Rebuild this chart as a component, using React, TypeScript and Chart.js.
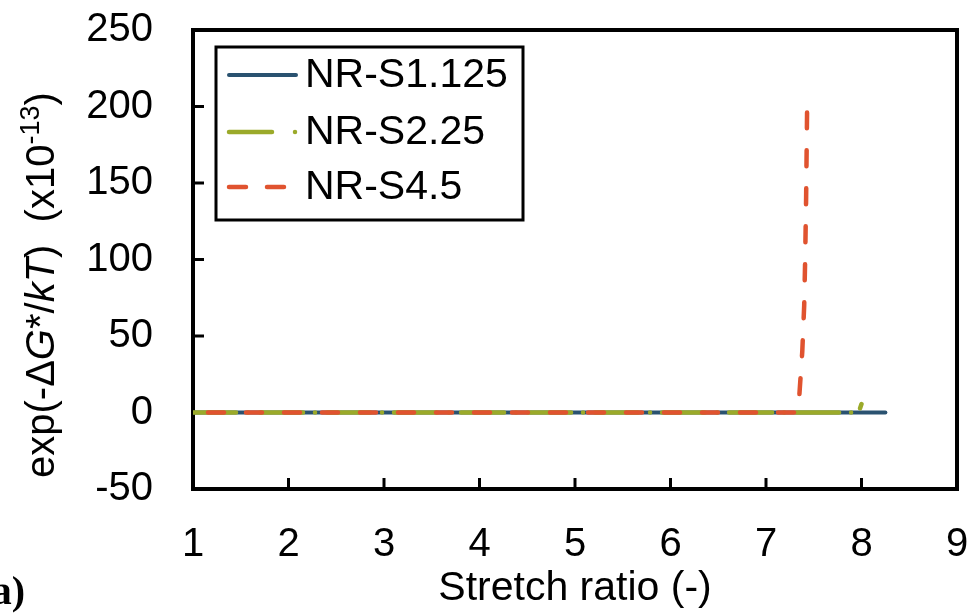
import { useEffect, useRef } from 'react';
import { Chart, registerables } from 'chart.js';

Chart.register(...registerables);

const FONT = '"Liberation Sans", Arial, sans-serif';

const seriesNames = ['NR-S1.125', 'NR-S2.25', 'NR-S4.5'];
const seriesColors = ['#2A5270', '#9BAA2A', '#E0532F'];

// NR-S1.125
const s1X = [1, 8.25];
const s1Y = [0, 0];
// NR-S2.25
const s2X = [1, 7.97, 8.0];
const s2Y = [0, 0, 5.5];
// NR-S4.5
const s3X = [1, 7.33, 7.35, 7.38, 7.4, 7.41, 7.42, 7.43];
const s3Y = [0, 0, 12, 40, 70, 100, 140, 196];

const xTicks = [1, 2, 3, 4, 5, 6, 7, 8, 9];
const yTicks = [-50, 0, 50, 100, 150, 200, 250];

const xTitle = 'Stretch ratio (-)';
const panelLabel = 'a)';

const toPts = (xs: number[], ys: number[]) => xs.map((x, i) => ({ x, y: ys[i] }));

const zeroPad = (s: any) => {
  s.paddingTop = 0;
  s.paddingBottom = 0;
  s.paddingLeft = 0;
  s.paddingRight = 0;
};

const framePlugin = {
  id: 'frame',
  beforeDatasetsDraw(chart: any) {
    const { ctx, chartArea, scales } = chart;
    const { left, right, top, bottom } = chartArea;
    ctx.save();
    ctx.strokeStyle = '#000';
    ctx.lineCap = 'butt';
    ctx.lineWidth = 3;
    for (const v of xTicks) {
      const px = scales.x.getPixelForValue(v);
      ctx.beginPath();
      ctx.moveTo(px, bottom);
      ctx.lineTo(px, bottom - 11);
      ctx.stroke();
    }
    for (const v of yTicks) {
      const py = scales.y.getPixelForValue(v);
      ctx.beginPath();
      ctx.moveTo(left, py);
      ctx.lineTo(left + 11, py);
      ctx.stroke();
    }
    ctx.lineWidth = 4;
    ctx.lineJoin = 'miter';
    ctx.strokeRect(left, top, right - left, bottom - top);
    ctx.restore();
  },
};

const decorPlugin = {
  id: 'decor',
  afterDraw(chart: any) {
    const { ctx } = chart;
    ctx.save();
    // Legend
    const lx = 216, ly = 47, lw = 307, lh = 173;
    ctx.fillStyle = '#fff';
    ctx.fillRect(lx, ly, lw, lh);
    ctx.strokeStyle = '#000';
    ctx.lineWidth = 3;
    ctx.strokeRect(lx, ly, lw, lh);
    const rows = [75, 132, 187];
    const legendDash = [[], [43, 23, 0.01, 100], [17, 21]];
    chart.data.datasets.forEach((ds: any, i: number) => {
      const yy = rows[i];
      ctx.save();
      ctx.strokeStyle = ds.borderColor;
      ctx.lineWidth = ds.borderWidth;
      ctx.lineCap = 'round';
      ctx.setLineDash(legendDash[i]);
      ctx.beginPath();
      ctx.moveTo(229, yy);
      ctx.lineTo(296, yy);
      ctx.stroke();
      ctx.restore();
      ctx.fillStyle = '#000';
      ctx.font = `41px ${FONT}`;
      ctx.textBaseline = 'middle';
      ctx.textAlign = 'left';
      ctx.fillText(ds.label, 305, yy + 1);
    });

    // Y title (rich text, rotated)
    const size = 40;
    const segs = [
      { t: 'exp(-\u0394', f: `${size}px ${FONT}`, dy: 0 },
      { t: 'G', f: `italic ${size}px ${FONT}`, dy: 0 },
      { t: '*', f: `${size}px ${FONT}`, dy: 0 },
      { t: '/', f: `${size}px ${FONT}`, dy: 0 },
      { t: 'kT', f: `italic ${size}px ${FONT}`, dy: 0 },
      { t: ')  (x10', f: `${size}px ${FONT}`, dy: 0 },
      { t: '-13', f: `27px ${FONT}`, dy: -15 },
      { t: ')', f: `${size}px ${FONT}`, dy: 0 },
    ];
    ctx.save();
    ctx.translate(54, 478);
    ctx.rotate(-Math.PI / 2);
    ctx.fillStyle = '#000';
    ctx.textBaseline = 'alphabetic';
    ctx.textAlign = 'left';
    let cx = 0;
    for (const s of segs) {
      ctx.font = s.f;
      ctx.fillText(s.t, cx, s.dy);
      cx += ctx.measureText(s.t).width;
    }
    ctx.restore();

    // panel label
    ctx.fillStyle = '#000';
    ctx.font = `bold 40px "Liberation Serif", "Times New Roman", serif`;
    ctx.textAlign = 'right';
    ctx.textBaseline = 'alphabetic';
    ctx.fillText(panelLabel, 25, 604);
    ctx.restore();
  },
};

export default function App() {
  const ref = useRef<HTMLCanvasElement>(null);
  useEffect(() => {
    if (!ref.current) return;
    const chart = new Chart(ref.current, {
      type: 'scatter',
      data: {
        datasets: [
          {
            label: seriesNames[0],
            data: toPts(s1X, s1Y),
            showLine: true,
            borderColor: seriesColors[0],
            backgroundColor: seriesColors[0],
            borderWidth: 4,
            pointRadius: 0,
            borderCapStyle: 'round',
            borderJoinStyle: 'round',
            order: 3,
          },
          {
            label: seriesNames[1],
            data: toPts(s2X, s2Y),
            showLine: true,
            borderColor: seriesColors[1],
            backgroundColor: seriesColors[1],
            borderWidth: 4.5,
            pointRadius: 0,
            borderDash: [43, 12, 0.01, 12],
            borderCapStyle: 'round',
            borderJoinStyle: 'round',
            order: 2,
          },
          {
            label: seriesNames[2],
            data: toPts(s3X, s3Y),
            showLine: true,
            borderColor: seriesColors[2],
            backgroundColor: seriesColors[2],
            borderWidth: 4.5,
            pointRadius: 0,
            borderDash: [16, 22],
            borderDashOffset: 23,
            borderCapStyle: 'round',
            borderJoinStyle: 'round',
            order: 1,
          },
        ],
      } as any,
      options: {
        responsive: false,
        animation: false,
        layout: { padding: { top: 30, right: 14, left: 0, bottom: 0 } },
        plugins: { legend: { display: false }, tooltip: { enabled: false } },
        scales: {
          x: {
            type: 'linear',
            min: 1,
            max: 9,
            afterBuildTicks: (s: any) => {
              s.ticks = xTicks.map((v) => ({ value: v }));
            },
            afterFit: (s: any) => {
              s.height = 124;
              zeroPad(s);
            },
            grid: { display: false, drawTicks: false },
            border: { display: false },
            ticks: { color: '#000', font: { size: 40, family: FONT }, padding: 32, maxRotation: 0 },
            title: {
              display: true,
              text: xTitle,
              color: '#000',
              font: { size: 41, family: FONT },
              padding: 0,
            },
          },
          y: {
            type: 'linear',
            min: -50,
            max: 250,
            afterBuildTicks: (s: any) => {
              s.ticks = yTicks.map((v) => ({ value: v }));
            },
            afterFit: (s: any) => {
              s.width = 193;
              zeroPad(s);
            },
            grid: { display: false, drawTicks: false },
            border: { display: false },
            ticks: { color: '#000', font: { size: 40, family: FONT }, padding: 40 },
          },
        },
      } as any,
      plugins: [framePlugin, decorPlugin],
    });
    return () => chart.destroy();
  }, []);
  return (
    <div style={{ position: 'absolute', left: 0, top: 0, width: 971, height: 613, background: '#fff' }}>
      <canvas ref={ref} width={971} height={613} />
    </div>
  );
}
